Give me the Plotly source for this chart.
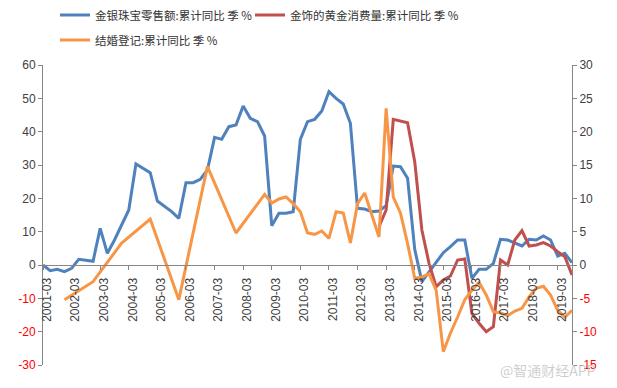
import plotly.graph_objects as go

# Quarterly categories 2001-03 .. 2019-09
quarters = [f"{y}-{m:02d}" for y in range(2001, 2020) for m in (3, 6, 9, 12)][:75]

jewelry_retail = [
    0, -1.7, -1.3, -2, -1, 1.7, 1.4, 1.1, 11, 3.5,
    7.5, 12, 16.5, 30.3, 29, 27.7, 19.2, 17.5, 16, 14,
    24.7, 24.7, 25.7, 28.5, 38.3, 37.7, 41.5, 42, 47.7, 44,
    43, 38.7, 11.8, 15.5, 15.5, 16, 37.7, 43, 43.7, 46.2,
    52, 50, 48.3, 42.5, 17, 16.8, 16, 16.2, 17.8, 29.7,
    29.5, 26, 4.7, -5, -2, 1, 3.7, 5.5, 7.5, 7.5,
    -4, -1.3, -1.3, 0.5, 7.7, 7.5, 6.5, 5.7, 7.7, 7.5,
    8.7, 7.5, 2.7, 3.5, 0.7,
]

gold_consumption = [None] * 47 + [
    11.5, 16.5, 43.7, 43.3, 42.7, 31, 10.5, 0.5, -6.5, -4.5,
    -3.3, 1.5, 1.8, -14.5, -17.5, -20, -18.5, 1.5, 0, 7.5,
    10.3, 5.7, 6, 6.7, 5.7, 4, 2.5, -3,
]

marriage = [
    None, None, None, -5.2, None, None, None, -2.5, None, None,
    None, 3.3, None, None, None, 6.9, None, None, None, -5.2,
    None, None, None, 14.8, None, None, None, 4.8, None, None,
    None, 10.6, 9.3, 9.9, 10.2, 9.2, 8.0, 4.8, 4.6, 5.1,
    4.0, 8.0, 7.8, 3.3, 9.2, 10.8, 7.5, 4.2, 23.5, 10.2,
    7.8, 3.2, -2.0, -1.8, -1.3, -3.8, -13.0, -10.2, -7.8, -5.2,
    -3.8, -2.6, -4.5, -7.0, -7.2, -7.6, -6.9, -6.5, -4.8, -3.5,
    -3.2, -4.5, -6.8, -7.8, -6.8,
]

left_ticks = [60, 50, 40, 30, 20, 10, 0, -10, -20, -30]
right_ticks = [30, 25, 20, 15, 10, 5, 0, -5, -10, -15]
x_tick_labels = quarters[::4]

names = ["金银珠宝零售额:累计同比 季 %", "金饰的黄金消费量:累计同比 季 %", "结婚登记:累计同比 季 %"]
colors = ["#4F81BD", "#C0504D", "#F79646"]


def tick_text(vals):
    return [f'<span style="color:#FF0000">{v}</span>' if v < 0 else str(v) for v in vals]


fig = go.Figure()
fig.add_trace(go.Scatter(x=quarters, y=jewelry_retail, name=names[0], mode="lines",
                         line=dict(color=colors[0], width=3), yaxis="y", legend="legend"))
fig.add_trace(go.Scatter(x=quarters, y=gold_consumption, name=names[1], mode="lines",
                         line=dict(color=colors[1], width=3), yaxis="y", legend="legend2"))
fig.add_trace(go.Scatter(x=quarters, y=marriage, name=names[2], mode="lines",
                         line=dict(color=colors[2], width=3), yaxis="y2", connectgaps=True,
                         legend="legend3"))

axis_font = dict(family="Liberation Sans, Arial, sans-serif", size=12, color="#404040")
legend_font = dict(family="Noto Sans CJK SC", size=11.5, color="#333333")


def legend_box(xpx, ypx):
    return dict(orientation="h", xref="container", yref="container",
                x=xpx / 617, xanchor="left", y=1 - ypx / 388, yanchor="middle",
                font=legend_font, bgcolor="rgba(0,0,0,0)", borderwidth=0)


fig.update_layout(
    width=617, height=388,
    margin=dict(l=43, r=45, t=65, b=23, autoexpand=False),
    paper_bgcolor="white", plot_bgcolor="white",
    showlegend=True,
    legend=legend_box(55, 15),
    legend2=legend_box(250, 15),
    legend3=legend_box(55, 40),
    xaxis=dict(type="category", categoryorder="array", categoryarray=quarters,
               range=[0, 74], anchor="free", position=1/3, automargin=False,
               tickmode="array", tickvals=x_tick_labels, ticktext=x_tick_labels,
               tickangle=-90, ticks="outside", ticklen=4, tickcolor="#868686",
               ticklabelshift=4, ticklabelstandoff=3,
               showline=True, linecolor="#868686", linewidth=1,
               showgrid=False, zeroline=False, tickfont=axis_font),
    yaxis=dict(range=[-30, 60], tickmode="array", tickvals=left_ticks,
               ticktext=tick_text(left_ticks), automargin=False,
               ticks="outside", ticklen=4, tickcolor="#868686",
               showline=True, linecolor="#868686", linewidth=1,
               showgrid=False, zeroline=False, tickfont=axis_font),
    yaxis2=dict(range=[-15, 30], overlaying="y", side="right", tickmode="array",
                tickvals=right_ticks, ticktext=tick_text(right_ticks), automargin=False,
                ticks="outside", ticklen=4, tickcolor="#868686",
                showline=True, linecolor="#868686", linewidth=1,
                showgrid=False, zeroline=False, tickfont=axis_font),
    annotations=[dict(text="@智通财经APP", xref="paper", yref="paper",
                      x=1.05, y=-0.017, xanchor="right", yanchor="middle",
                      showarrow=False,
                      font=dict(family="Noto Sans CJK SC", size=14, color="rgba(190,190,190,0.75)"))],
)

fig.write_html("out.html", config={"displayModeBar": False},
               post_script="document.body.style.margin='0';")
